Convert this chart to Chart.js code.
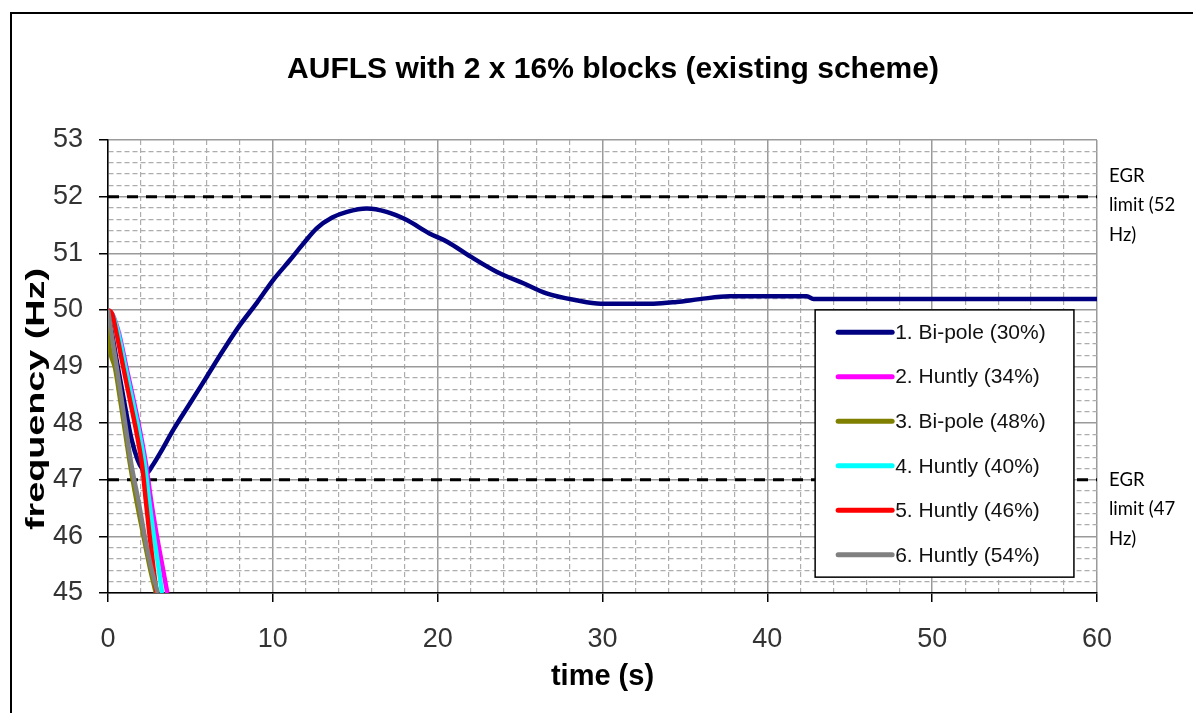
<!DOCTYPE html>
<html lang="en">
<head>
<meta charset="UTF-8">
<title>AUFLS with 2 x 16% blocks (existing scheme)</title>
<script src="https://cdn.jsdelivr.net/npm/chart.js@4"></script>
<style>
  body { margin: 0; background: #fff; }
  #wrap { position: relative; width: 1193px; height: 713px; overflow: hidden; }
  #frame { position: absolute; left: 10px; top: 12px; width: 1300px; height: 800px; border: 2px solid #000; }
  canvas { position: absolute; left: 0; top: 0; }
</style>
</head>
<body>
<div id="wrap">
  <div id="frame"></div>
  <canvas id="aufls" width="1193" height="713"></canvas>
</div>
<script>
// series names and colours (Excel order)
const seriesLabels = ["1. Bi-pole (30%)", "2. Huntly (34%)", "3. Bi-pole (48%)", "4. Huntly (40%)", "5. Huntly (46%)", "6. Huntly (54%)"];
const seriesColors = ["#000080", "#ff00ff", "#808000", "#00ffff", "#ff0000", "#808080"];

// time (s) / frequency (Hz)
const bipole30Time = [0, 0.5, 1.0, 1.44, 1.8, 2.1, 2.35, 2.7, 3.16, 3.96, 4.98, 5.99, 7.0, 8.0, 9.02, 10.03, 11.04, 11.85, 12.66, 13.6, 14.5, 15.7, 16.9, 18.1, 19.5, 20.6, 22.0, 23.6, 25.2, 26.6, 28.4, 29.9, 33.1, 34.5, 35.9, 37.7, 42.4, 42.8, 60];
const bipole30Freq = [50, 49.15, 48.35, 47.7, 47.35, 47.18, 47.12, 47.25, 47.47, 47.88, 48.35, 48.82, 49.29, 49.73, 50.12, 50.53, 50.88, 51.17, 51.44, 51.63, 51.73, 51.79, 51.73, 51.59, 51.35, 51.2, 50.94, 50.67, 50.47, 50.29, 50.17, 50.11, 50.11, 50.14, 50.19, 50.24, 50.24, 50.19, 50.19];

const huntly34Time = [0, 0.3, 0.68, 1.12, 1.55, 1.97, 2.33, 2.61, 2.94, 3.31, 3.6];
const huntly34Freq = [50, 49.9, 49.57, 48.98, 48.41, 47.82, 47.23, 46.64, 46.05, 45.46, 45.0];

const bipole48Time = [0, 0.04, 0.15, 0.42, 0.74, 1.05, 1.36, 1.72, 2.12, 2.53, 2.9];
const bipole48Freq = [50, 49.55, 49.25, 48.98, 48.41, 47.82, 47.23, 46.64, 46.05, 45.46, 45.0];

const huntly40Time = [0, 0.3, 0.64, 1.06, 1.48, 1.9, 2.25, 2.49, 2.76, 3.06, 3.28];
const huntly40Freq = [50, 49.9, 49.57, 48.98, 48.41, 47.82, 47.23, 46.64, 46.05, 45.46, 45.0];

const huntly46Time = [0, 0.25, 0.53, 0.93, 1.33, 1.74, 2.08, 2.29, 2.51, 2.75, 2.95];
const huntly46Freq = [50, 49.93, 49.57, 48.98, 48.41, 47.82, 47.23, 46.64, 46.05, 45.46, 45.0];

const huntly54Time = [0, 0.22, 0.53, 0.83, 1.13, 1.44, 1.84, 2.2, 2.61, 3.02];
const huntly54Freq = [50, 49.57, 48.98, 48.41, 47.82, 47.23, 46.64, 46.05, 45.46, 45.0];

// EGR limit lines
const egrLimits = [52, 47];
const egrSpan = [0, 60];
const egrNotes = [["EGR", "limit (52", "Hz)"], ["EGR", "limit (47", "Hz)"]];

const curves = [
  [bipole30Time, bipole30Freq],
  [huntly34Time, huntly34Freq],
  [bipole48Time, bipole48Freq],
  [huntly40Time, huntly40Freq],
  [huntly46Time, huntly46Freq],
  [huntly54Time, huntly54Freq]
];

const sans = "'Liberation Sans', Arial, sans-serif";
const isMajor = (v, step) => Math.abs(v / step - Math.round(v / step)) < 1e-6;

const datasets = curves.map((c, i) => ({
  label: seriesLabels[i],
  data: c[0].map((t, k) => ({ x: t, y: c[1][k] })),
  borderColor: seriesColors[i],
  backgroundColor: seriesColors[i],
  borderWidth: 4.5,
  pointRadius: 0,
  cubicInterpolationMode: "monotone",
  order: 10 - i
}));
egrLimits.forEach(v => datasets.push({
  label: "",
  data: egrSpan.map(t => ({ x: t, y: v })),
  borderColor: "#000",
  borderWidth: 3,
  borderDash: [11, 8],
  pointRadius: 0,
  order: 20
}));

// title, y axis title, EGR notes and the boxed legend
const extras = {
  id: "extras",
  afterDatasetsDraw(chart) {
    const { ctx, chartArea: a, scales: { x, y } } = chart;
    ctx.save();
    ctx.fillStyle = "#000";
    ctx.textAlign = "center";
    ctx.textBaseline = "middle";
    ctx.font = "bold 30px " + sans;
    ctx.fillText("AUFLS with 2 x 16% blocks (existing scheme)", 613, 70);

    // the original axis title is drawn long and thin
    ctx.save();
    ctx.font = "bold 25px " + sans;
    const yTitle = "frequency (Hz)";
    const sx = 262 / ctx.measureText(yTitle).width;
    ctx.translate(37, 399);
    ctx.rotate(-Math.PI / 2);
    ctx.scale(sx, 1);
    ctx.fillText(yTitle, 0, 0);
    ctx.restore();

    ctx.textAlign = "left";
    ctx.font = "18.5px Lato, 'Open Sans', sans-serif";
    egrLimits.forEach((v, k) => {
      const y0 = y.getPixelForValue(v) + (k === 0 ? -21 : 0);
      egrNotes[k].forEach((line, j) => ctx.fillText(line, a.right + 12, y0 + j * 29.5));
    });

    const L = x.getPixelForValue(42.9), R = x.getPixelForValue(58.6);
    const T = y.getPixelForValue(50.0), B = y.getPixelForValue(45.28);
    ctx.fillStyle = "#fff";
    ctx.fillRect(L, T, R - L, B - T);
    ctx.strokeStyle = "#000";
    ctx.lineWidth = 1.5;
    ctx.strokeRect(L, T, R - L, B - T);
    const rows = chart.data.datasets.filter(d => d.label);
    const step = (B - T) / rows.length;
    ctx.font = "21px " + sans;
    rows.forEach((d, i) => {
      const cy = T + step * (i + 0.5);
      ctx.strokeStyle = d.borderColor;
      ctx.lineWidth = 5;
      ctx.lineCap = "round";
      ctx.beginPath();
      ctx.moveTo(L + 23, cy);
      ctx.lineTo(L + 77, cy);
      ctx.stroke();
      ctx.fillStyle = "#111";
      ctx.fillText(d.label, L + 80, cy + 1);
    });
    ctx.restore();
  }
};

new Chart(document.getElementById("aufls"), {
  type: "line",
  data: { datasets },
  plugins: [extras],
  options: {
    responsive: false,
    animation: false,
    layout: { padding: { top: 140, right: 96, left: 0, bottom: 0 } },
    plugins: { legend: { display: false }, title: { display: false }, tooltip: { enabled: false } },
    scales: {
      x: {
        type: "linear", min: 0, max: 60,
        ticks: {
          stepSize: 2, autoSkip: false, maxRotation: 0, maxTicksLimit: 100, padding: 21,
          color: "#333", font: { family: sans, size: 27 },
          callback: v => isMajor(v, 10) ? v : ""
        },
        grid: {
          color: c => isMajor(c.tick.value, 10) ? "#9a9a9a" : "#adadad",
          lineWidth: c => isMajor(c.tick.value, 10) ? 1.5 : 1.2,
          tickColor: c => isMajor(c.tick.value, 10) ? "#000" : "transparent",
          tickLength: 9
        },
        border: { color: "#000", width: 1.5, dash: c => (c.tick && !isMajor(c.tick.value, 10)) ? [5, 3] : [] },
        title: { display: true, text: "time (s)", color: "#000", font: { family: sans, size: 29, weight: "bold" }, padding: { top: 0, bottom: 19 } },
        afterFit: s => { s.height = 120; }
      },
      y: {
        type: "linear", min: 45, max: 53,
        ticks: {
          stepSize: 0.2, autoSkip: false, maxTicksLimit: 100, padding: 16,
          color: "#333", font: { family: sans, size: 27 },
          callback: v => isMajor(v, 1) ? Math.round(v) : ""
        },
        grid: {
          color: c => isMajor(c.tick.value, 1) ? "#9a9a9a" : "#adadad",
          lineWidth: c => isMajor(c.tick.value, 1) ? 1.5 : 1.2,
          tickColor: c => isMajor(c.tick.value, 1) ? "#000" : "transparent",
          tickLength: 9
        },
        border: { color: "#000", width: 1.5, dash: c => (c.tick && !isMajor(c.tick.value, 1)) ? [5, 3] : [] },
        title: { display: false },
        afterFit: s => { s.width = 108; }
      }
    }
  }
});
</script>
</body>
</html>
